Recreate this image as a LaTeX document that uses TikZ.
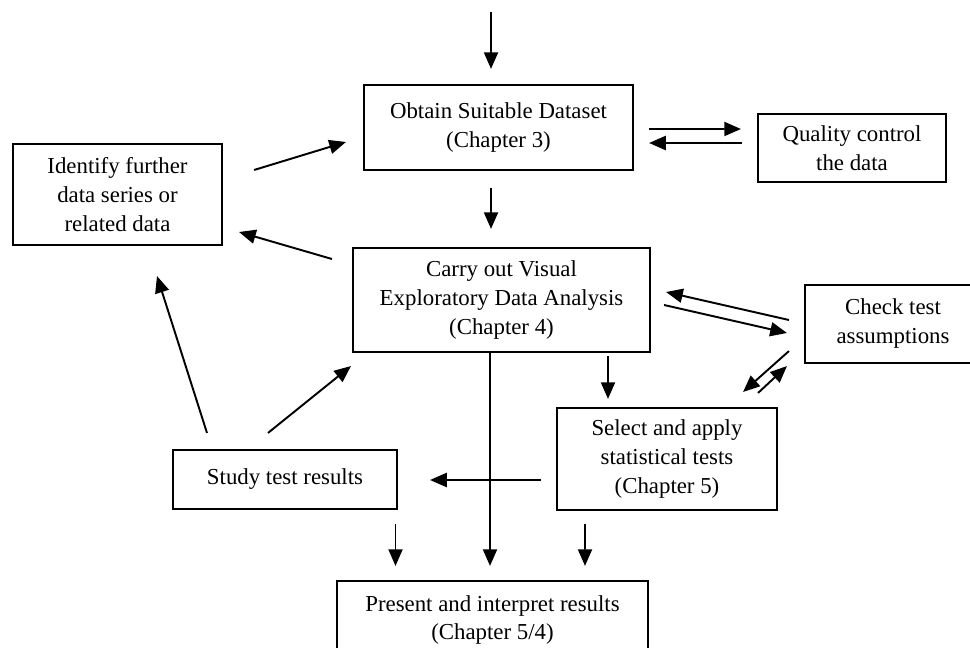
\documentclass[tikz,border=0pt]{standalone}
\usepackage{fontspec}
\setmainfont{Liberation Serif}
\usetikzlibrary{arrows.meta}

\begin{document}
\begin{tikzpicture}[x=0.02cm, y=-0.02cm,
    box/.style={draw, line width=1.2pt, align=center, inner sep=0pt, font=\fontsize{13}{16.5}\selectfont},
    size/.style 2 args={minimum width=#1*0.02cm, minimum height=#2*0.02cm},
    arr/.style={line width=1.1pt, -{Triangle[length=9.5pt, width=8pt]}}]
    \useasboundingbox (0,0) rectangle (970,648);
    \coordinate (in) at (491,12);
    \node[box, size={269}{85}] (obtain) at (498.5,127.5) {Obtain Suitable Dataset\\(Chapter 3)};
    \node[box, size={188}{68}] (quality) at (852,148) {Quality control\\the data};
    \node[box, size={209}{101}] (identify) at (117.5,194.5) {Identify further\\data series or\\related data};
    \node[box, size={297}{104}] (carry) at (501.5,300) {Carry out Visual\\Exploratory Data Analysis\\(Chapter 4)};
    \node[box, size={176}{78}] (check) at (893,324) {Check test\\assumptions};
    \node[box, size={220}{102}] (select) at (667,459) {Select and apply\\statistical tests\\(Chapter 5)};
    \node[box, size={224}{59}] (study) at (285,479.5) {Study test results};
    \node[box, size={311}{78}] (present) at (492.5,620) {Present and interpret results\\(Chapter 5/4)};
    \draw[arr] (in) -- ([shift={(-7.5,-15)}]obtain.north);
    \draw[arr] ([shift={(15,1.5)}]obtain.east) -- ([shift={(-16,-19)}]quality.west);
    \draw[arr] ([shift={(-15,-5)}]quality.west) -- ([shift={(15,15.5)}]obtain.east);
    \draw[arr] ([shift={(31,-24.5)}]identify.east) -- ([shift={(-17,14.5)}]obtain.west);
    \draw[arr] ([shift={(-7.5,17)}]obtain.south) -- ([shift={(-10.5,-18)}]carry.north);
    \draw[arr] ([shift={(-20,-41)}]carry.west) -- ([shift={(16,37.5)}]identify.east);
    \draw[arr] ([shift={(-15,-4)}]check.west) -- ([shift={(15,-8)}]carry.east);
    \draw[arr] ([shift={(13,5)}]carry.east) -- ([shift={(-17,9)}]check.west);
    \draw[arr] ([shift={(-15,-13)}]check.south west) -- ([shift={(-35,-15)}]select.north east);
    \draw[arr] ([shift={(-20,-14)}]select.north east) -- ([shift={(-17,2)}]check.south west);
    \draw[arr] ([shift={(-59,-51)}]select.north) -- ([shift={(-59,-8)}]select.north);
    \draw[arr] ([shift={(-15,21)}]select.west) -- ([shift={(32,0.5)}]study.east);
    \draw[arr] ([shift={(-17,-16)}]study.north) -- ([shift={(-1,13)}]carry.south west);
    \draw[arr] ([shift={(-78,-16)}]study.north) -- ([shift={(39.5,30)}]identify.south);
    \draw[arr] ([shift={(110.5,14)}]study.south) -- ([shift={(-97,-14)}]present.north);
    \draw[arr] ([shift={(-11.5,-2)}]carry.south) -- ([shift={(-2.5,-14)}]present.north);
    \draw[arr] ([shift={(-82,13)}]select.south) -- ([shift={(92.5,-14)}]present.north);
\end{tikzpicture}
\end{document}
